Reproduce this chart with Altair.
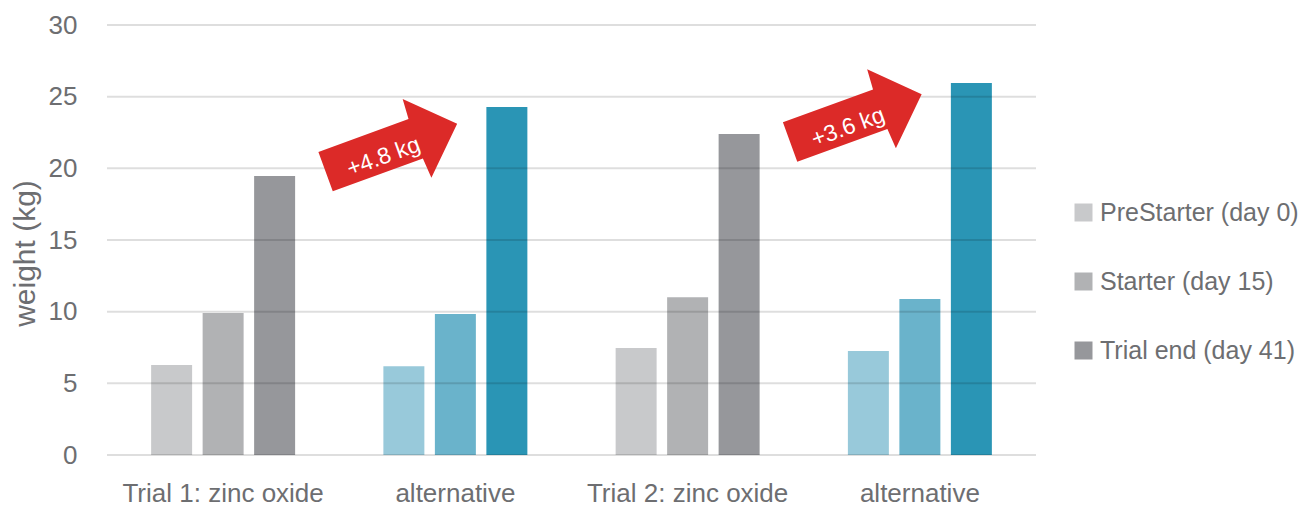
import altair as alt
import pandas as pd

# ---- data ----
group_ids = ["g1", "g2", "g3", "g4"]
group_labels = ["Trial 1: zinc oxide", "alternative", "Trial 2: zinc oxide", "alternative"]
group_types = ["zinc", "alt", "zinc", "alt"]
stages = ["PreStarter (day 0)", "Starter (day 15)", "Trial end (day 41)"]
values = [
    [6.28, 9.9, 19.47],
    [6.2, 9.84, 24.28],
    [7.47, 11.0, 22.4],
    [7.26, 10.88, 25.96],
]
zinc_colors = ["#C8C9CB", "#B1B2B4", "#96979B"]
alt_colors = ["#98C9DA", "#6AB3CB", "#2A95B5"]
y_ticks = [0, 5, 10, 15, 20, 25, 30]

arrow_groups = ["g2", "g4"]
arrow_y = [21.44, 23.5]
arrow_labels = ["+4.8 kg", "+3.6 kg"]

# ---- tables ----
rows = []
for gi, gid in enumerate(group_ids):
    for si, st in enumerate(stages):
        rows.append({"group": gid, "stage": st, "key": f"{group_types[gi]}|{st}",
                     "value": values[gi][si]})
df = pd.DataFrame(rows)
color_domain = [f"zinc|{s}" for s in stages] + [f"alt|{s}" for s in stages]
color_range = zinc_colors + alt_colors

grid_df = pd.DataFrame({"y": y_ticks})
arrow_df = pd.DataFrame({"group": arrow_groups, "y": arrow_y, "label": arrow_labels})

FONT = "Liberation Sans"
GRAY = "#6D6E71"

label_expr = ("[" + ",".join(f"'{l}'" for l in group_labels) + "][indexof(["
              + ",".join(f"'{g}'" for g in group_ids) + "], datum.value)]")
legend_expr = "split(datum.value, '|')[1]"

x_enc = alt.X("group:N", sort=group_ids, title=None,
              scale=alt.Scale(domain=group_ids, paddingInner=0, paddingOuter=0),
              axis=alt.Axis(labelExpr=label_expr, labelFont=FONT, labelFontSize=26,
                            labelColor=GRAY, labelPadding=25, ticks=False, tickSize=0,
                            domain=False, grid=False, labelAngle=0, labelLimit=0))
y_scale = alt.Scale(domain=[0, 30], nice=False)

bars = alt.Chart(df).mark_bar().encode(
    x=x_enc,
    xOffset=alt.XOffset("stage:N", sort=stages,
                        scale=alt.Scale(domain=stages, paddingInner=0.204, paddingOuter=0.857)),
    y=alt.Y("value:Q", scale=y_scale, title="weight (kg)",
            axis=alt.Axis(values=y_ticks, grid=False, ticks=False, tickSize=0, domain=False,
                          labelFont=FONT, labelFontSize=26, labelColor=GRAY,
                          labelPadding=30, titleFont=FONT, titleFontSize=30,
                          titleFontWeight="normal", titleColor=GRAY,
                          titleX=-82, titleY=228, titleBaseline="middle")),
    color=alt.Color("key:N", scale=alt.Scale(domain=color_domain, range=color_range),
                    legend=alt.Legend(values=color_domain[:3], labelExpr=legend_expr,
                                      title=None, orient="none", legendX=964, legendY=175,
                                      symbolType="square", symbolSize=324,
                                      symbolStrokeWidth=0, labelFont=FONT,
                                      labelFontSize=25, labelColor=GRAY, rowPadding=43,
                                      labelOffset=4, padding=0, labelLimit=0)),
)

grid = alt.Chart(grid_df).mark_rule(color="#000000", opacity=0.13, strokeWidth=2).encode(
    y=alt.Y("y:Q", scale=y_scale)
)

arrow_path = "M-1,-0.3 L0.37,-0.3 L0.39,-0.6 L1,0 L0.39,0.6 L0.37,0.3 L-1,0.3 Z"
arrows = alt.Chart(arrow_df).mark_point(
    shape=arrow_path, size=19600, filled=True, color="#DC2A28", opacity=1,
    angle=340, strokeWidth=0
).encode(
    x=alt.X("group:N", sort=group_ids, bandPosition=0.2244),
    y=alt.Y("y:Q", scale=y_scale),
)

arrow_text = alt.Chart(arrow_df).mark_text(
    font=FONT, fontSize=23, color="#FFFFFF", angle=340, align="center",
    baseline="middle", dx=-10.5, dy=6
).encode(
    x=alt.X("group:N", sort=group_ids, bandPosition=0.2244),
    y=alt.Y("y:Q", scale=y_scale),
    text="label:N",
)

chart = alt.layer(bars, grid, arrows, arrow_text).properties(
    width=929, height=430,
    background="#FFFFFF",
    autosize=alt.AutoSizeParams(type="none"),
    padding={"left": 107, "top": 25, "right": 274, "bottom": 51},
).configure_view(strokeWidth=0, stroke=None)

chart.save("out.html", embed_options={"renderer": "svg", "actions": False})
